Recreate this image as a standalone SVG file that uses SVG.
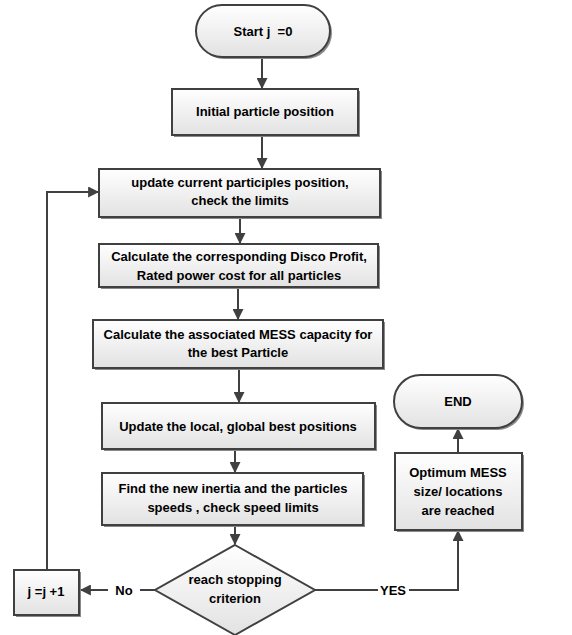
<svg xmlns="http://www.w3.org/2000/svg" width="572" height="635" viewBox="0 0 572 635">
<defs>
<linearGradient id="g" x1="0" y1="0" x2="0" y2="1">
<stop offset="0" stop-color="#ffffff"/>
<stop offset="1" stop-color="#e2e2e2"/>
</linearGradient>
<marker id="ah" viewBox="0 0 10 10" refX="9" refY="5" markerWidth="11" markerHeight="11" markerUnits="userSpaceOnUse" orient="auto">
<path d="M0,0 L10,5 L0,10 z" fill="#404040"/>
</marker>
</defs>
<style>
.s{fill:#8a8a8a;stroke:none}
.b{fill:url(#g);stroke:#404040;stroke-width:2}
.t{font-family:"Liberation Sans",Arial,sans-serif;font-weight:bold;font-size:13px;fill:#000;text-anchor:middle}
.c{fill:none;stroke:#404040;stroke-width:2}
</style>
<g id="connectors">
<line class="c" x1="262" y1="58" x2="262" y2="88" marker-end="url(#ah)"/>
<line class="c" x1="262" y1="135" x2="262" y2="168" marker-end="url(#ah)"/>
<line class="c" x1="240" y1="217" x2="240" y2="243" marker-end="url(#ah)"/>
<line class="c" x1="238" y1="287" x2="238" y2="319" marker-end="url(#ah)"/>
<line class="c" x1="239" y1="368" x2="239" y2="402" marker-end="url(#ah)"/>
<line class="c" x1="235" y1="449" x2="235" y2="472" marker-end="url(#ah)"/>
<line class="c" x1="235" y1="525" x2="235" y2="544" marker-end="url(#ah)"/>
<polyline class="c" points="155,590 140,590"/>
<line class="c" x1="108" y1="590" x2="81" y2="590" marker-end="url(#ah)"/>
<polyline class="c" points="47,570 47,192 98,192" marker-end="url(#ah)"/>
<line class="c" x1="315" y1="590" x2="378" y2="590"/>
<polyline class="c" points="409,590 458,590 458,531" marker-end="url(#ah)"/>
<line class="c" x1="458" y1="453" x2="458" y2="429" marker-end="url(#ah)"/>
<text class="t" x="124" y="595">No</text>
<text class="t" x="393" y="595">YES</text>
</g>
<g id="start">
<rect class="s" x="198" y="7" width="134" height="52" rx="26"/>
<rect class="b" x="196" y="5" width="134" height="52" rx="26"/>
<text class="t" x="263" y="36" xml:space="preserve">Start j  =0</text>
</g>
<g id="initial">
<rect class="s" x="174" y="91" width="186" height="46"/>
<rect class="b" x="172" y="89" width="186" height="46"/>
<text class="t" x="265" y="116">Initial particle position</text>
</g>
<g id="update">
<rect class="s" x="101" y="171" width="281" height="48"/>
<rect class="b" x="99" y="169" width="281" height="48"/>
<text class="t" x="240" y="187">update current participles position,</text>
<text class="t" x="240" y="205">check the limits</text>
</g>
<g id="disco">
<rect class="s" x="101" y="246" width="279" height="43"/>
<rect class="b" x="99" y="244" width="279" height="43"/>
<text class="t" x="239" y="261">Calculate the corresponding Disco Profit,</text>
<text class="t" x="239" y="280">Rated power cost for all particles</text>
</g>
<g id="mess">
<rect class="s" x="95" y="322" width="290" height="48"/>
<rect class="b" x="93" y="320" width="290" height="48"/>
<text class="t" x="238" y="339">Calculate the associated MESS capacity for</text>
<text class="t" x="238" y="357">the best Particle</text>
</g>
<g id="local">
<rect class="s" x="104" y="405" width="273" height="46"/>
<rect class="b" x="102" y="403" width="273" height="46"/>
<text class="t" x="238" y="431">Update the local, global best positions</text>
</g>
<g id="inertia">
<rect class="s" x="104" y="475" width="261" height="52"/>
<rect class="b" x="102" y="473" width="261" height="52"/>
<text class="t" x="233" y="493">Find the new inertia and the particles</text>
<text class="t" x="233" y="512">speeds , check speed limits</text>
</g>
<g id="decision">
<polygon class="b" points="235,545 315,590 235,635 155,590"/>
<text class="t" x="235" y="584">reach stopping</text>
<text class="t" x="235" y="603">criterion</text>
</g>
<g id="incr">
<rect class="s" x="16" y="572" width="65" height="45"/>
<rect class="b" x="14" y="570" width="65" height="45"/>
<text class="t" x="46" y="596">j =j +1</text>
</g>
<g id="optimum">
<rect class="s" x="397" y="455" width="127" height="77"/>
<rect class="b" x="395" y="453" width="127" height="77"/>
<text class="t" x="458" y="477">Optimum MESS</text>
<text class="t" x="458" y="496">size/ locations</text>
<text class="t" x="458" y="515">are reached</text>
</g>
<g id="end">
<rect class="s" x="396" y="377" width="128" height="53" rx="26.5"/>
<rect class="b" x="394" y="375" width="128" height="53" rx="26.5"/>
<text class="t" x="458" y="406">END</text>
</g>
</svg>
